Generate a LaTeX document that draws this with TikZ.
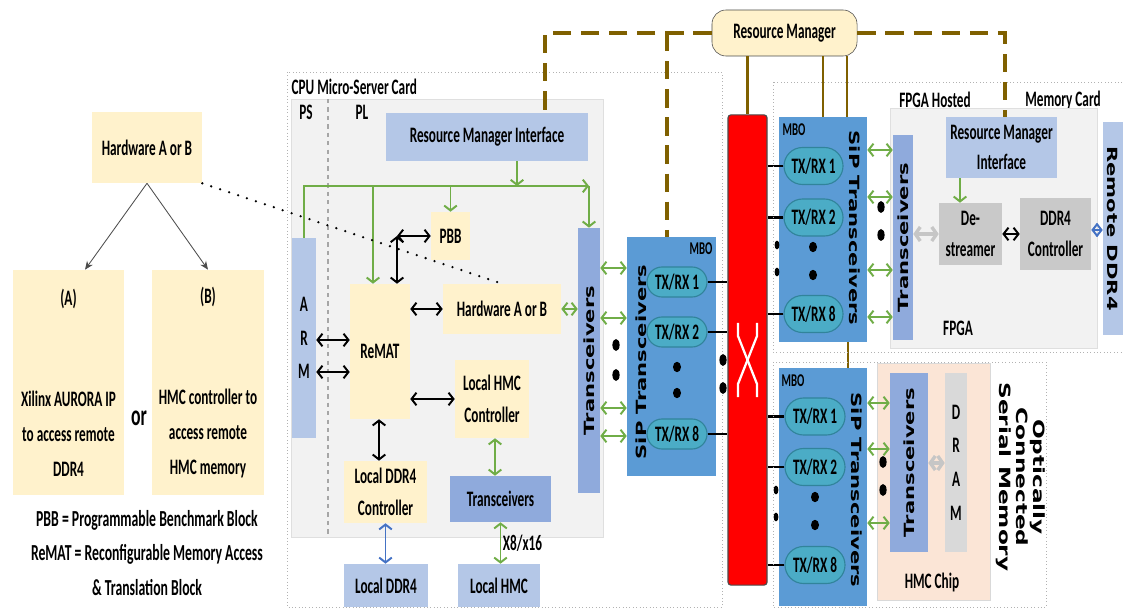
\documentclass[tikz,border=0pt]{standalone}
\usepackage{fontspec}
\setmainfont[FakeStretch=0.6]{Carlito Bold}
\newfontfamily\rotfont[FakeStretch=1.5]{DejaVu Sans}
\usepackage{graphicx}
\usepackage{tikz}
\usetikzlibrary{arrows.meta, positioning, calc, shapes.misc}
\usepackage{xcolor}
\definecolor{hwYellow}{HTML}{FFF2CC}
\definecolor{rmiBlue}{HTML}{B4C7E7}
\definecolor{trxBlue}{HTML}{8FAADC}
\definecolor{mboBlue}{HTML}{5B9BD5}
\definecolor{pillTeal}{HTML}{4BACC6}
\definecolor{pillEdge}{HTML}{31849B}
\definecolor{linkGreen}{HTML}{70AD47}
\definecolor{ddrBlue}{HTML}{4472C4}
\definecolor{rmBrown}{HTML}{7F6000}
\definecolor{cardGray}{HTML}{F2F2F2}
\definecolor{hmcPeach}{HTML}{FBE5D6}
\definecolor{ctrlGray}{HTML}{C9C9C9}

\begin{document}
\begin{tikzpicture}[x=0.025cm, y=-0.025cm,
    box/.style={rectangle, inner sep=1pt, align=center, font=\fontsize{15.7}{22.5}\selectfont},
    hwbox/.style={box, fill=hwYellow},
    rmibox/.style={box, fill=rmiBlue},
    trxbox/.style={box, fill=trxBlue, font=\rotfont\bfseries\fontsize{10}{12}\selectfont},
    ctrlbox/.style={box, fill=ctrlGray},
    mbo/.style={rectangle, inner sep=0pt, fill=mboBlue},
    txrx/.style={rounded rectangle, draw=pillEdge, line width=0.8pt, fill=pillTeal, inner sep=0pt, font=\fontsize{15.7}{17}\selectfont},
    lbl/.style={align=center, inner sep=1pt, text=black, font=\fontsize{15.7}{22.5}\selectfont},
    siplbl/.style={inner sep=0pt, font=\rotfont\bfseries\fontsize{10}{12}\selectfont},
    mbolbl/.style={inner sep=0pt, font=\fontsize{12.8}{14}\selectfont},
    card/.style={draw=gray!60, dotted, thin},
    arrow/.style={{Straight Barb[length=3.5pt,width=9pt]}-{Straight Barb[length=3.5pt,width=9pt]}, line width=1.4pt},
    garrow/.style={arrow, linkGreen},
    gdown/.style={-{Straight Barb[length=3.5pt,width=9pt]}, line width=1.4pt, linkGreen},
    barrow/.style={arrow, black},
    blarrow/.style={arrow, ddrBlue},
    grarrow/.style={{Straight Barb[length=3.5pt,width=10pt]}-{Straight Barb[length=3.5pt,width=10pt]}, line width=2.4pt, gray!45},
    selarrow/.style={-{Stealth[length=6pt,width=5pt]}, line width=0.6pt, black!70},
    link/.style={black, line width=2pt},
    rmline/.style={rmBrown, line width=1.5pt},
    rmdash/.style={rmBrown, line width=2.8pt, dash pattern=on 13pt off 7pt}
]
    \useasboundingbox (0,0) rectangle (1123,609);

    % Hardware A or B options
    \node[hwbox, minimum width=2.75cm, minimum height=1.775cm] (hwsel) at (147,147.5) {Hardware A or B};
    \node[hwbox, minimum width=2.775cm, minimum height=5.625cm, font=\fontsize{15.7}{24.8}\selectfont] (optA) at (68.5,382.5) {(A)\\[47pt]Xilinx AURORA IP\\to access remote\\DDR4};
    \node[hwbox, minimum width=2.8cm, minimum height=5.625cm, font=\fontsize{15.7}{24.8}\selectfont] (optB) at (208,382.5) {(B)\\[47pt]HMC controller to\\access remote\\HMC memory};
    \node[lbl, font=\fontsize{21}{22}\selectfont] (orword) at (139,418) {or};
    \node[lbl, font=\fontsize{16.3}{24.8}\selectfont] (legend) at (147,553) {PBB = Programmable Benchmark Block\\ReMAT = Reconfigurable Memory Access\\\& Translation Block};
    \draw[selarrow] (hwsel.south) -- (optA.north -| 85,0);
    \draw[selarrow] (hwsel.south) -- (optB.north);

    % CPU Micro-Server Card
    \draw[card] (287,72) rectangle (722,607);
    \node[lbl, anchor=west] (cpulbl) at (290,87) {CPU Micro-Server Card};
    \filldraw[fill=cardGray, draw=gray!25] (291,99) rectangle (603,537);
    \node[lbl] (pslbl) at (306,112) {PS};
    \node[lbl] (pllbl) at (362,112) {PL};
    \draw[gray!70, dashed, thick] (328,99) -- (328,537);

    \node[rmibox, minimum width=5.05cm, minimum height=1.2cm] (rmi) at (487,137) {Resource Manager Interface};
    \node[rmibox, minimum width=0.6cm, minimum height=5cm, font=\fontsize{15.7}{24}\selectfont] (arm) at (304,338) {A\\R\\M};
    \node[hwbox, minimum width=1.5cm, minimum height=3.375cm] (remat) at (380,351.5) {ReMAT};
    \node[hwbox, minimum width=0.975cm, minimum height=1.2cm] (pbb) at (450.5,236) {PBB};
    \node[hwbox, minimum width=2.95cm, minimum height=1.25cm] (hwcpu) at (502,309) {Hardware A or B};
    \node[hwbox, minimum width=1.85cm, minimum height=1.95cm] (lhmcc) at (492,399) {Local HMC\\Controller};
    \node[hwbox, minimum width=2.075cm, minimum height=1.55cm] (lddrc) at (385.5,492) {Local DDR4\\Controller};
    \node[box, fill=trxBlue, minimum width=2.525cm, minimum height=1.15cm] (ltrx) at (500.5,499) {Transceivers};
    \node[rmibox, minimum width=2.1cm, minimum height=1.075cm] (lddr) at (386,585.5) {Local DDR4};
    \node[rmibox, minimum width=2.05cm, minimum height=1.075cm] (lhmc) at (499,585.5) {Local HMC};
    \node[trxbox, minimum width=0.55cm, minimum height=6.625cm] (ctrx) at (589,360.5) {\rotatebox{90}{Transceivers}};

    % green control bus
    \draw[gdown] (arm.north) |- (ctrx.north |- 0,186);
    \draw[gdown] (ctrx.north |- 0,186) -- (ctrx.north);
    \draw[gdown] (rmi.south -| 517,0) -- (517,186);
    \draw[gdown] (373,186) -- (remat.north -| 373,0);
    \draw[gdown] (pbb.north |- 0,186) -- (pbb.north);

    % links inside the card
    \coordinate (jct) at (397,236);
    \draw[barrow] (jct) -- (pbb.west);
    \draw[barrow] (jct) -- (remat.north -| jct);
    \draw[barrow] (arm.east |- 0,340) -- (remat.west |- 0,340);
    \draw[barrow] (arm.east |- 0,372) -- (remat.west |- 0,372);
    \draw[barrow] (remat.east |- hwcpu) -- (hwcpu.west);
    \draw[barrow] (remat.east |- lhmcc) -- (lhmcc.west);
    \draw[barrow] (remat.south -| 379,0) -- (lddrc.north -| 379,0);
    \draw[blarrow] (lddrc.south) -- (lddr.north -| lddrc.south);
    \draw[garrow] (lhmcc.south -| 495,0) -- (ltrx.north -| 495,0);
    \draw[garrow] (ltrx.south) -- (lhmc.north -| ltrx.south) node[midway, right, lbl] {X8/x16};
    \draw[garrow] (hwcpu.east) -- (ctrx.west |- hwcpu);
    \draw[black, line width=1.8pt, dash pattern=on 0pt off 6.7pt, line cap=round] (hwsel.south east) -- (hwcpu.north);

    % optical switch
    \node[draw=black!70, thick, fill=red, rounded corners=2pt, minimum width=0.975cm, minimum height=11.75cm] (xbar) at (747.5,350) {};
    \draw[white, line width=1.6pt] (738,323) -- (738,336) -- (757,384) -- (757,397);
    \draw[white, line width=1.6pt] (757,323) -- (757,336) -- (738,384) -- (738,397);

    % MBO on the CPU card side
    \node[mbo, minimum width=2.225cm, minimum height=5.975cm] (mbol) at (671.5,356.5) {};
    \node[mbolbl] (mbolbl1) at (701,249) {MBO};
    \node[siplbl, rotate=90] (sipl) at (641,362) {SiP Transceivers};
    \node[txrx, minimum width=1.5cm, minimum height=0.75cm] (lt1) at (677,282) {TX/RX 1};
    \node[txrx, minimum width=1.5cm, minimum height=0.75cm] (lt2) at (677,332) {TX/RX 2};
    \node[txrx, minimum width=1.5cm, minimum height=0.75cm] (lt8) at (677,434) {TX/RX 8};
    \foreach \p in {(677,367),(677,393)} \fill \p ellipse [x radius=0.1cm, y radius=0.13cm];
    \foreach \n in {lt1,lt2,lt8} \draw[link] (\n.east) -- (\n.east -| xbar.west);
    \foreach \p in {(723,360),(723,388),(616,345),(616,375)} \fill \p ellipse [x radius=0.09cm, y radius=0.15cm];
    \foreach \yy in {268,318,408,436} \draw[garrow] (ctrx.east |- 0,\yy) -- (mbol.west |- 0,\yy);

    % MBO on the memory side
    \node[mbo, minimum width=2.2cm, minimum height=5.625cm] (mbou) at (823,229.5) {};
    \node[mbolbl] (mbolbl2) at (794,130) {MBO};
    \node[siplbl, rotate=-90] (sipu) at (855,228) {SiP Transceivers};
    \node[txrx, minimum width=1.475cm, minimum height=0.925cm] (tru1) at (813.5,166) {TX/RX 1};
    \node[txrx, minimum width=1.475cm, minimum height=0.925cm] (tru2) at (813.5,217.5) {TX/RX 2};
    \node[txrx, minimum width=1.475cm, minimum height=0.925cm] (tru8) at (813.5,314) {TX/RX 8};
    \foreach \p in {(813,247),(813,275)} \fill \p ellipse [x radius=0.1cm, y radius=0.13cm];

    \node[mbo, minimum width=2.2cm, minimum height=5.95cm] (mbod) at (823,487) {};
    \node[mbolbl] (mbolbl3) at (793,381) {MBO};
    \node[siplbl, rotate=-90] (sipd) at (857,490) {SiP Transceivers};
    \node[txrx, minimum width=1.5cm, minimum height=0.925cm] (trd1) at (815,416.5) {TX/RX 1};
    \node[txrx, minimum width=1.5cm, minimum height=0.925cm] (trd2) at (815,467) {TX/RX 2};
    \node[txrx, minimum width=1.5cm, minimum height=0.925cm] (trd8) at (815,565) {TX/RX 8};
    \foreach \p in {(815,497),(815,525)} \fill \p ellipse [x radius=0.1cm, y radius=0.13cm];

    \foreach \n in {tru1,tru2,tru8,trd1,trd2,trd8} \draw[link] (\n.west) -- (\n.west -| xbar.east);
    \foreach \p in {(777,245),(777,272),(776,490),(776,517)} \fill \p ellipse [x radius=0.06cm, y radius=0.11cm];

    % Resource Manager
    \node[box, draw=black!70, fill=hwYellow, rounded corners=0.35cm, minimum width=3.625cm, minimum height=1.15cm] (rmgr) at (784.5,33) {Resource Manager};
    \draw[rmdash] (rmgr.west) -| (rmi.north -| 545,0);
    \draw[rmdash] (rmgr.west -| 667,0) -- (mbol.north -| 667,0);
    \draw[rmline] (rmgr.south -| xbar.north) -- (xbar.north);
    \draw[rmline] (rmgr.south -| 823,0) -- (mbou.north -| 823,0);
    \draw[rmline] (rmgr.south -| 847,0) -- (mbou.north -| 847,0);
    \draw[rmline] (mbou.south -| 848,0) -- (mbod.north -| 848,0);

    % FPGA Hosted Memory Card
    \draw[card] (773,82) rectangle (1123,352);
    \node[lbl] (fhlbl) at (935,100) {FPGA Hosted};
    \node[lbl] (mclbl) at (1063,100) {Memory Card};
    \filldraw[fill=cardGray, draw=gray!25] (890,108) rectangle (1097,348);
    \node[trxbox, minimum width=0.5cm, minimum height=5.125cm] (ftrx) at (903,237.5) {\rotatebox{90}{Transceivers}};
    \node[rmibox, minimum width=2.775cm, minimum height=1.525cm, font=\fontsize{15.7}{21.5}\selectfont] (frmi) at (1001.5,147.5) {Resource Manager\\Interface};
    \node[ctrlbox, minimum width=1.575cm, minimum height=1.55cm] (dstr) at (970.5,234) {De-\\streamer};
    \node[ctrlbox, minimum width=1.775cm, minimum height=1.8cm] (fddrc) at (1055.5,234) {DDR4\\Controller};
    \node[rmibox, minimum width=0.5cm, minimum height=5.325cm, font=\rotfont\bfseries\fontsize{10}{12}\selectfont] (rddr) at (1113,228.5) {\rotatebox{-90}{Remote DDR4}};
    \node[lbl] (fpgalbl) at (958,328) {FPGA};
    \draw[rmdash] (rmgr.east) -| (frmi.north -| 1005,0);
    \draw[gdown] (frmi.south -| 960,0) -- (dstr.north -| 960,0);
    \draw[grarrow] (ftrx.east |- dstr) -- (dstr.west);
    \draw[barrow] (dstr.east) -- (fddrc.west);
    \draw[blarrow] (fddrc.east |- 0,230) -- (rddr.west |- 0,230);
    \foreach \yy in {150,197,270,317} \draw[garrow] (mbou.east |- 0,\yy) -- (ftrx.west |- 0,\yy);
    \foreach \p in {(881,207),(881,235)} \fill \p ellipse [x radius=0.09cm, y radius=0.15cm];

    % Optically Connected Serial Memory
    \draw[card] (773,362) rectangle (1046,607);
    \node[draw=gray!30, fill=hmcPeach, minimum width=2.825cm, minimum height=5.925cm] (hmc) at (933.5,481.5) {};
    \node[lbl] (hmclbl) at (932,582) {HMC Chip};
    \node[trxbox, minimum width=0.95cm, minimum height=4.475cm] (htrx) at (909,462.5) {\rotatebox{90}{Transceivers}};
    \node[box, fill=gray!30, minimum width=0.55cm, minimum height=4.475cm, font=\fontsize{15.7}{24}\selectfont] (dram) at (956,462.5) {D\\R\\A\\M};
    \draw[grarrow] (htrx.east |- 0,463) -- (dram.west |- 0,463);
    \foreach \yy in {403,449,523} \draw[garrow] (mbod.east |- 0,\yy) -- (htrx.west |- 0,\yy);
    \foreach \p in {(883,462),(883,490)} \fill \p ellipse [x radius=0.09cm, y radius=0.15cm];
    \node[rotate=-90, align=center, font=\rotfont\bfseries\fontsize{11}{12}\selectfont] (ocsm) at (1021,477) {Optically\\Connected\\Serial Memory};
\end{tikzpicture}
\end{document}
